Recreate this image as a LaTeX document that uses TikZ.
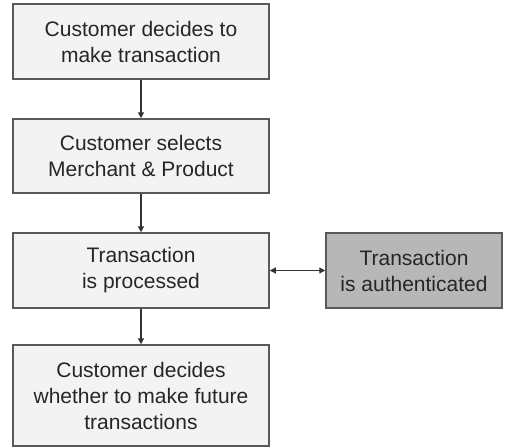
\documentclass[tikz,border=0pt]{standalone}
\usepackage{fontspec}
\setmainfont{Liberation Sans}
\usetikzlibrary{arrows.meta}
\definecolor{boxfill}{HTML}{F3F3F3}
\definecolor{authfill}{HTML}{B7B7B7}
\definecolor{edge}{HTML}{595959}
\definecolor{wire}{HTML}{333333}
\tikzset{
  flowbox/.style={draw=edge, line width=1.5pt, fill=boxfill, align=center,
    inner sep=0pt, font=\fontsize{21}{26}\selectfont, text=black!85},
  authbox/.style={flowbox, fill=authfill},
  link/.style={draw=wire, line width=1.2pt, -{Triangle[length=6pt,width=6pt]}},
  twoway/.style={draw=wire, line width=1.2pt, {Triangle[length=6pt,width=6pt]}-{Triangle[length=6pt,width=6pt]}}
}
\begin{document}
\begin{tikzpicture}[x=1pt,y=-1pt]
  \useasboundingbox (0,0) rectangle (505,447);
  \node[flowbox, minimum width=256pt, minimum height=75pt] (decide) at (141,41.5)
    {Customer decides to\\make transaction};
  \node[flowbox, minimum width=256pt, minimum height=74pt] (select) at (141,156)
    {Customer selects\\Merchant \& Product};
  \node[flowbox, minimum width=256pt, minimum height=75pt] (process) at (141,270.5)
    {Transaction\\is processed};
  \node[flowbox, minimum width=256pt, minimum height=101pt] (future) at (141,395.5)
    {Customer decides\\whether to make future\\transactions};
  \node[authbox, minimum width=176pt, minimum height=75pt] (auth) at (414,270.5)
    {Transaction\\is authenticated};
  \draw[link] (decide) -- (select);
  \draw[link] (select) -- (process);
  \draw[link] (process) -- (future);
  \draw[twoway] (process) -- (auth);
\end{tikzpicture}
\end{document}
